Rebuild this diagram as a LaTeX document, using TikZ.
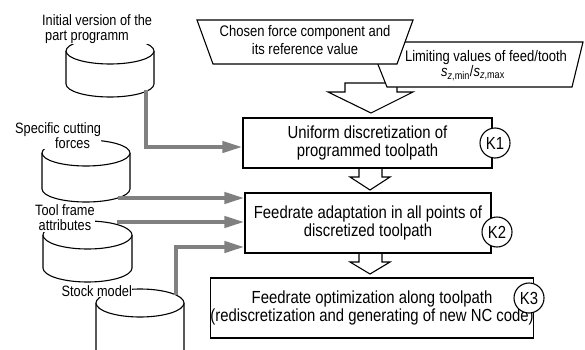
\documentclass[tikz,border=0pt]{standalone}
\usepackage{fontspec}
\setmainfont{Liberation Sans}[FakeStretch=0.85]
\usetikzlibrary{arrows.meta}
\definecolor{arrowgray}{gray}{0.5}
\tikzset{
  shapeline/.style={draw=black, line width=1.1pt, fill=white},
  boxnode/.style={shapeline, rectangle, align=center, inner sep=0pt, font=\fontsize{17.5}{18}\selectfont},
  knode/.style={shapeline, circle, minimum size=30pt, inner sep=0pt, font=\fontsize{17.5}{18}\selectfont},
  lbl/.style={fill=white, inner sep=0.5pt, anchor=north west},
  trtext/.style={inner sep=0pt, align=center, font=\fontsize{15.3}{18}\selectfont},
  feed/.style={draw=arrowgray, line width=4pt, -{Triangle[length=20pt,width=11pt]}},
  hollow/.style={shapeline, line join=miter},
}
\newcommand\drawcyl[5]{% cx, rx, ty, by, ry
  \fill[white] (#1-#2,#4) -- (#1-#2,#3) -- (#1+#2,#3) -- (#1+#2,#4) arc[start angle=0,end angle=-180,x radius=#2,y radius=#5] -- cycle;
  \draw[line width=1.1pt] (#1-#2,#3) -- (#1-#2,#4) arc[start angle=180,end angle=360,x radius=#2,y radius=#5] -- (#1+#2,#3);
  \draw[shapeline] (#1,#3) ellipse[x radius=#2, y radius=#5];
}
\begin{document}
\begin{tikzpicture}[x=1pt,y=1pt]
\useasboundingbox (0,0) rectangle (585,349);
\clip (0,0) rectangle (585,349);

% big hollow arrow and input trapezoids
\draw[hollow] (345,266) -- (345,257) -- (328,257) -- (371,236) -- (413,257) -- (397,257) -- (397,266) -- cycle;
\draw[shapeline] (369,307) -- (583,307) -- (572,262) -- (387,262) -- cycle;
\node[trtext] (t2a) at (486,291) {Limiting values of feed/tooth};
\node[trtext] (t2b) at (473,276) {\textit{s}\textsubscript{\textit{z},min}/\textit{s}\textsubscript{\textit{z},max}};
\draw[shapeline] (197,329) -- (413,329) -- (397,285) -- (213,285) -- cycle;
\node[trtext] (t1) at (305,309) {Chosen force component and\\its reference value};

% small hollow arrows
\draw[hollow] (359,181) -- (359,172) -- (350,172) -- (370,159) -- (390,172) -- (382,172) -- (382,181);
\draw[hollow] (359,96) -- (359,87) -- (350,87) -- (370,75) -- (390,87) -- (382,87) -- (382,96);

% process boxes
\node[boxnode, minimum width=249pt, minimum height=50pt] (K1) at (367.5,206) {Uniform discretization of\\programmed toolpath};
\node[boxnode, minimum width=246pt, minimum height=60pt] (K2) at (368,126) {Feedrate adaptation in all points of\\discretized toolpath};
\node[boxnode, minimum width=308pt, minimum height=60pt] (K3) at (372,41) {Feedrate optimization along toolpath\\(rediscretization and generating of new NC code)};
\node[knode] (K1c) at (495,206) {K1};
\node[knode] (K2c) at (497,117) {K2};
\node[knode] (K3c) at (529,51) {K3};

% data cylinders
\drawcyl{110}{44}{298}{265}{13}
\drawcyl{86}{44}{196}{160}{13}
\drawcyl{87.5}{44.5}{114}{81}{14}
\drawcyl{140}{44}{46}{-1}{14}

% labels
\node[lbl, align=left, font=\fontsize{15}{15}\selectfont] (l1) at (41.5,335) {Initial version of the\\\hspace*{3pt}part programm};
\node[lbl, align=left, font=\fontsize{15}{15}\selectfont] (l2) at (14.5,227.2) {Specific cutting\\\hspace*{40pt}forces};
\node[lbl, align=center, font=\fontsize{15}{15}\selectfont] (l3) at (34.5,144.7) {Tool frame\\attributes};
\node[lbl, anchor=base west, font=\fontsize{15}{15}\selectfont] (l4) at (61,53) {Stock model};

% feed arrows
\coordinate (c1out) at (146,259);
\coordinate (c2out) at (118,151);
\coordinate (c3out) at (117,127);
\coordinate (c4out) at (176,54);
\coordinate (y1) at (0,202);
\coordinate (y4) at (0,102);
\draw[feed] (c1out) |- (K1.west |- y1);
\draw[feed] (c2out) -- (K2.west |- c2out);
\draw[feed] (c3out) -- (K2.west |- c3out);
\draw[feed] (c4out) |- (K2.west |- y4);
\end{tikzpicture}
\end{document}
